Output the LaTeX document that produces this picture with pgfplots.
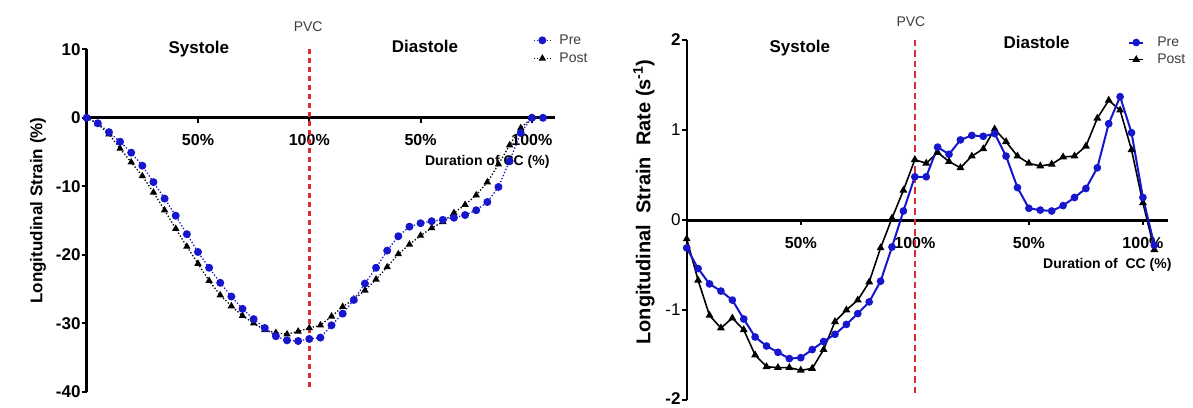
\documentclass[border=0pt]{standalone}
\usepackage{fontspec}
\setmainfont{Liberation Sans}
\usepackage{pgfplots}
\pgfplotsset{compat=1.18}

\definecolor{preblue}{RGB}{22,22,205}
\definecolor{pvcred}{RGB}{215,45,50}
\definecolor{txtgray}{RGB}{60,60,60}
\newcommand{\fs}[1]{\fontsize{#1}{#1}\selectfont}

\pgfplotsset{
  panel/.style={
    scale only axis, clip=false,
    axis x line=middle, axis y line=left, axis line style={-},
    hide obscured x ticks=false, hide obscured y ticks=false,
    tick align=outside, major tick length=5pt,
    tick style={black, line width=2pt},
    xtick={50,100,150,200}, xticklabels={50\%,100\%,50\%,100\%},
    xticklabel style={font=\bfseries\fs{16}, inner sep=0pt},
    yticklabel style={font=\bfseries\fs{17}, inner sep=1pt},
    legend cell align=left, reverse legend,
    legend style={draw=none, fill=none, inner sep=0pt, anchor=north west,
      font=\fs{14}, text=txtgray, row sep=7pt,
      nodes={inner sep=0pt, anchor=west}},
  },
}

\begin{document}
\begin{tikzpicture}
\path[use as bounding box] (0pt,0pt) rectangle (1193pt,407pt);

% ---- left: longitudinal strain
\begin{axis}[panel,
  at={(86.7pt,15.3pt)}, anchor=south west,
  width=468.3pt, height=342.4pt,
  xmin=0, xmax=210.4, ymin=-40, ymax=10,
  x axis line style={line width=3pt},
  y axis line style={line width=3.3pt},
  ytick={-40,-30,-20,-10,0,10}, yticklabels={-40,-30,-20,-10,0,10},
  xticklabel style={yshift=-11pt},
  ylabel={Longitudinal Strain (\%)},
  ylabel style={font=\bfseries\fs{17}, at={(axis description cs:-0.104,0.529)}, anchor=center},
  legend style={at={(axis description cs:0.953,1.043)}},
  legend image code/.code={\draw[mark repeat=2,mark phase=2,#1] plot coordinates {(0pt,0pt) (8.5pt,0pt) (17pt,0pt)}; \path (25pt,0pt);},
]
\addplot[black, dotted, line width=1.3pt, mark=triangle*, mark size=3pt, mark options={solid}] coordinates {
  (0,0) (5,-0.9) (10,-2.4) (15,-4.5) (20,-6.5) (25,-8.5) (30,-10.9) (35,-13.5)
  (40,-16.2) (45,-18.8) (50,-21.3) (55,-23.8) (60,-25.9) (65,-27.5) (70,-28.9)
  (75,-30.0) (80,-31.0) (85,-31.4) (90,-31.6) (95,-31.2) (100,-30.7) (105,-30.3)
  (110,-29.0) (115,-27.6) (120,-26.5) (125,-25.2) (130,-23.6) (135,-21.8)
  (140,-19.9) (145,-18.5) (150,-17.2) (155,-16.1) (160,-15.2) (165,-13.9)
  (170,-12.7) (175,-11.3) (180,-9.4) (185,-6.8) (190,-4.0) (195,-1.5) (200,0)
};
\addplot[preblue, dotted, line width=1.3pt, mark=*, mark size=3.3pt, mark options={solid}] coordinates {
  (0,0) (5,-0.8) (10,-2.1) (15,-3.5) (20,-5.1) (25,-7.0) (30,-9.4) (35,-11.8)
  (40,-14.3) (45,-17.0) (50,-19.6) (55,-21.9) (60,-24.1) (65,-26.1) (70,-27.9)
  (75,-29.4) (80,-30.7) (85,-31.9) (90,-32.5) (95,-32.6) (100,-32.3) (105,-32.1)
  (110,-30.3) (115,-28.6) (120,-26.6) (125,-24.2) (130,-21.9) (135,-19.4)
  (140,-17.3) (145,-15.9) (150,-15.4) (155,-15.1) (160,-14.9) (165,-14.6)
  (170,-14.2) (175,-13.5) (180,-12.3) (185,-10.1) (190,-6.3) (195,-2.2)
  (200,0) (205,0)
};
\legend{Post, Pre}
\addplot[pvcred, line width=3pt, dash pattern=on 5pt off 4pt, forget plot] coordinates {(100,10) (100,-39.3)};
\node[font=\bfseries\fs{17}] at (axis cs:50.4,10.1) {Systole};
\node[font=\bfseries\fs{17}] at (axis cs:152,10.4) {Diastole};
\node[font=\fs{14}, text=txtgray] at (axis cs:99.5,13.35) {PVC};
\node[font=\bfseries\fs{14}, anchor=east, inner sep=0pt] at (axis cs:208,-6.4) {Duration of CC (\%)};
\end{axis}

% ---- right: longitudinal strain rate
\begin{axis}[panel,
  at={(686.7pt,7pt)}, anchor=south west,
  width=481.3pt, height=360pt,
  xmin=0, xmax=211, ymin=-2, ymax=2,
  x axis line style={line width=3pt},
  y axis line style={line width=2.3pt},
  ytick={-2,-1,0,1,2}, yticklabels={\raisebox{3pt}{-2},{\mdseries -1},{\mdseries 0},{\mdseries 1},2},
  xticklabel style={yshift=-12pt},
  ylabel={Longitudinal\ \ Strain\ \ Rate\ (s\textsuperscript{-1})},
  ylabel style={font=\bfseries\fs{20}, at={(axis description cs:-0.0887,0.55)}, anchor=center},
  legend style={at={(axis description cs:0.917,1.009)}, row sep=6pt},
  legend image code/.code={\draw[mark repeat=2,mark phase=2,#1] plot coordinates {(0pt,0pt) (7pt,0pt) (14pt,0pt)}; \path (27pt,0pt);},
]
\addplot[black, line width=1.6pt, mark=triangle*, mark size=3pt] coordinates {
  (0,-0.21) (5,-0.67) (10,-1.06) (15,-1.20) (20,-1.09) (25,-1.22) (30,-1.50)
  (35,-1.63) (40,-1.64) (45,-1.64) (50,-1.67) (55,-1.65) (60,-1.44) (65,-1.13)
  (70,-1.00) (75,-0.89) (80,-0.69) (85,-0.31) (90,0.02) (95,0.33) (100,0.67)
  (105,0.63) (110,0.75) (115,0.65) (120,0.58) (125,0.71) (130,0.79) (135,1.01)
  (140,0.87) (145,0.71) (150,0.63) (155,0.60) (160,0.62) (165,0.70) (170,0.71)
  (175,0.82) (180,1.13) (185,1.33) (190,1.22) (195,0.78) (200,0.19) (205,-0.33)
};
\addplot[preblue, line width=2pt, mark=*, mark size=2.8pt] coordinates {
  (0,-0.31) (5,-0.54) (10,-0.71) (15,-0.79) (20,-0.89) (25,-1.10) (30,-1.30)
  (35,-1.40) (40,-1.47) (45,-1.54) (50,-1.53) (55,-1.44) (60,-1.35) (65,-1.27)
  (70,-1.16) (75,-1.04) (80,-0.91) (85,-0.68) (90,-0.30) (95,0.10) (100,0.48)
  (105,0.48) (110,0.81) (115,0.73) (120,0.89) (125,0.94) (130,0.93) (135,0.96)
  (140,0.71) (145,0.36) (150,0.13) (155,0.11) (160,0.10) (165,0.16) (170,0.25)
  (175,0.35) (180,0.58) (185,1.07) (190,1.37) (195,0.97) (200,0.25) (205,-0.28)
};
\legend{Post, Pre}
\addplot[pvcred, line width=2.6pt, dash pattern=on 6.5pt off 4pt, forget plot] coordinates {(100,2) (100,-1.94)};
\node[font=\bfseries\fs{17}] at (axis cs:49.6,1.91) {Systole};
\node[font=\bfseries\fs{17}] at (axis cs:153.4,1.97) {Diastole};
\node[font=\fs{14}, text=txtgray] at (axis cs:98.3,2.2) {PVC};
\node[font=\bfseries\fs{14}, anchor=east, inner sep=0pt] at (axis cs:212.6,-0.5) {Duration of\ \ CC (\%)};
\end{axis}
\end{tikzpicture}
\end{document}
